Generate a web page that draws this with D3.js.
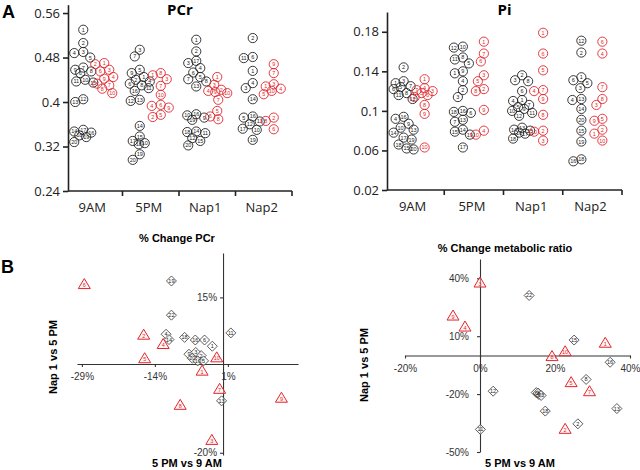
<!DOCTYPE html>
<html><head><meta charset="utf-8">
<script src="https://cdn.jsdelivr.net/npm/d3@7"></script>
<style>body{margin:0;background:#fff}svg{display:block}</style>
</head><body>
<svg id="c" width="640" height="470"></svg>
<script>
// ---------- DATA ----------
const categories = ["9AM", "5PM", "Nap1", "Nap2"];
const pcrTicks = [0.24, 0.32, 0.4, 0.48, 0.56];
const piTicks = [0.02, 0.06, 0.1, 0.14, 0.18];

// [value, subject id]
const pcrBlack9AM = [[0.530,1],[0.506,2],[0.490,3],[0.488,4],[0.480,5],[0.462,7],[0.458,9],[0.455,8],[0.452,6],[0.440,10],[0.437,11],[0.435,15],[0.405,12],[0.400,13],[0.350,17],[0.347,14],[0.345,16],[0.340,18],[0.337,19],[0.328,20]];
const pcrRed9AM   = [[0.470,1],[0.468,2],[0.458,3],[0.455,6],[0.445,4],[0.442,9],[0.433,5],[0.430,7],[0.424,8],[0.416,10]];
const pcrBlack5PM = [[0.494,3],[0.482,7],[0.458,5],[0.452,9],[0.445,1],[0.440,2],[0.437,4],[0.433,6],[0.430,8],[0.425,11],[0.420,16],[0.404,13],[0.402,12],[0.357,14],[0.338,15],[0.330,17],[0.326,10],[0.324,18],[0.306,19],[0.296,20]];
const pcrRed5PM   = [[0.452,8],[0.448,1],[0.441,3],[0.429,7],[0.413,10],[0.395,6],[0.393,4],[0.390,9],[0.377,5],[0.373,2]];
const pcrBlackNap1 = [[0.512,1],[0.491,2],[0.474,17],[0.470,3],[0.461,4],[0.453,6],[0.445,5],[0.441,7],[0.437,8],[0.428,13],[0.378,16],[0.376,10],[0.372,9],[0.368,19],[0.347,14],[0.346,18],[0.344,11],[0.335,12],[0.330,15],[0.322,20]];
const pcrRedNap1   = [[0.445,1],[0.431,3],[0.422,2],[0.420,4],[0.418,9],[0.416,10],[0.404,7],[0.384,5],[0.374,6],[0.369,8]];
const pcrBlackNap2 = [[0.515,2],[0.481,6],[0.479,11],[0.456,1],[0.434,4],[0.425,3],[0.405,14],[0.374,16],[0.372,5],[0.365,13],[0.360,12],[0.352,17],[0.350,10],[0.332,19]];
const pcrRedNap2   = [[0.468,9],[0.452,7],[0.432,3],[0.428,1],[0.424,4],[0.420,10],[0.414,5],[0.372,2],[0.366,8],[0.351,6]];

const piBlack9AM = [[0.144,2],[0.130,3],[0.128,1],[0.125,7],[0.124,5],[0.122,6],[0.118,8],[0.116,11],[0.112,12],[0.094,16],[0.092,4],[0.087,9],[0.083,10],[0.081,13],[0.078,14],[0.073,17],[0.071,19],[0.066,18],[0.062,15],[0.061,20]];
const piRed9AM   = [[0.132,1],[0.123,4],[0.121,7],[0.120,3],[0.118,5],[0.116,6],[0.114,2],[0.106,8],[0.097,9],[0.063,10]];
const piBlack5PM = [[0.165,10],[0.164,12],[0.154,8],[0.152,11],[0.148,5],[0.140,9],[0.138,1],[0.130,4],[0.121,2],[0.114,3],[0.100,16],[0.099,18],[0.098,6],[0.091,13],[0.089,7],[0.081,14],[0.079,15],[0.076,19],[0.063,17]];
const piRed5PM   = [[0.170,1],[0.158,7],[0.150,6],[0.136,3],[0.130,5],[0.122,2],[0.120,8],[0.101,9],[0.080,4],[0.076,10]];
const piBlackNap1 = [[0.136,2],[0.131,3],[0.130,8],[0.120,6],[0.111,1],[0.110,4],[0.106,7],[0.104,5],[0.102,9],[0.100,10],[0.098,11],[0.095,12],[0.083,13],[0.081,14],[0.080,15],[0.078,16],[0.077,17],[0.072,18]];
const piRedNap1   = [[0.179,1],[0.158,6],[0.141,5],[0.121,7],[0.120,4],[0.112,9],[0.096,8],[0.080,2],[0.079,10],[0.070,3]];
const piBlackNap2 = [[0.171,12],[0.159,2],[0.134,1],[0.131,6],[0.128,5],[0.123,3],[0.112,13],[0.111,4],[0.102,14],[0.091,20],[0.080,15],[0.069,19],[0.051,18],[0.049,16]];
const piRedNap2   = [[0.170,6],[0.158,4],[0.124,7],[0.112,8],[0.106,3],[0.092,5],[0.090,9],[0.081,2],[0.077,1],[0.070,10]];

// [x %, y %, subject id]
const pcrChangeX_ticks = [-29, -14, 1];
const pcrChangeY_ticks = [-20, 15];
const pcrChangeRed = [[-28.5,18.0,6],[-16.3,6.6,2],[-12.3,4.5,4],[-16.1,1.3,5],[-1.3,1.5,10],[-4.3,-1.5,1],[-0.7,-5.6,7],[-8.8,-9.2,8],[12.0,-7.6,9],[-2.3,-17.1,3]];
const pcrChangeBlack = [[-10.6,18.7,19],[-10.6,11.0,22],[1.6,7.0,11],[-11.7,6.7,4],[-11.1,5.5,14],[-7.9,6.0,18],[-5.7,5.4,16],[-3.8,5.4,6],[-2.2,4.0,1],[-7.0,2.2,9],[-5.6,2.6,3],[-4.5,1.9,2],[-6.3,1.3,20],[-5.2,0.7,10],[-4.0,0.7,5],[-0.3,-8.3,13]];

const ratioX_ticks = [-20, 0, 20, 40];
const ratioY_ticks = [-50, -20, 10, 40];
const ratioRed = [[0,37.8,3],[-7.2,20.7,9],[-4.0,15.0,4],[33.4,6.6,1],[22.7,2.2,10],[19.2,-0.3,8],[24.3,-13.8,5],[29.2,-18.5,7],[22.7,-38.0,2]];
const ratioBlack = [[13.1,31.1,22],[25.1,8.0,15],[34.7,-3.5,16],[28.3,-12.4,8],[3.5,-18.5,12],[15.0,-19.2,6],[15.7,-20.2,9],[15.5,-19.5,3],[16.3,-20.7,23],[36.5,-27.5,13],[17.4,-28.8,18],[26.1,-35.4,2],[0.1,-38.3,11]];

// ---------- DRAW ----------
const RED = "#e3262b", BLK = "#222";
const svg = d3.select("#c");
const fA = "'Open Sans', sans-serif";
const fB = "'Liberation Sans', Arial, sans-serif";

svg.append("text").attr("x", 2).attr("y", 18).attr("font-family", fB).attr("font-weight", "bold").attr("font-size", 18).text("A");
svg.append("text").attr("x", 1).attr("y", 273).attr("font-family", fB).attr("font-weight", "bold").attr("font-size", 18).text("B");

function stripPanel(cfg) {
  const g = svg.append("g");
  const y = d3.scaleLinear().domain(cfg.ydom).range(cfg.yrange);
  const x = d3.scaleBand().domain(categories).range(cfg.xrange);
  const ya = g.append("g").attr("transform", `translate(${cfg.axisX},0)`)
    .call(d3.axisLeft(y).tickValues(cfg.ticks).tickSize(5).tickSizeOuter(0).tickPadding(3).tickFormat(d3.format(".2~f")));
  ya.selectAll("path,line").attr("stroke", BLK).attr("stroke-width", 1.6);
  ya.selectAll("text").attr("font-family", fA).attr("font-size", 13).attr("fill", "#222");
  const x0 = y.range()[0];
  g.append("line").attr("x1", cfg.axisX).attr("x2", cfg.xrange[1]).attr("y1", x0).attr("y2", x0).attr("stroke", BLK).attr("stroke-width", 1.6);
  categories.forEach(c => {
    g.append("line").attr("x1", x(c) + x.bandwidth()).attr("x2", x(c) + x.bandwidth()).attr("y1", x0).attr("y2", x0 + 5).attr("stroke", BLK).attr("stroke-width", 1.6);
    g.append("text").attr("x", x(c) + x.bandwidth() / 2 - 2).attr("y", x0 + 21).attr("text-anchor", "middle")
      .attr("font-family", fA).attr("font-size", 13).attr("fill", "#222").text(c);
  });
  g.append("text").attr("x", (cfg.axisX + cfg.xrange[1]) / 2).attr("y", 15).attr("text-anchor", "middle")
    .attr("font-family", fA).attr("font-weight", "bold").attr("font-size", 15).text(cfg.title);

  const r = 4.6;
  function swarm(vals, cx) {
    const placed = [];
    const minD = 8.2, maxOff = 10;
    const cands = [0];
    for (let i = 1; i <= maxOff; i++) { cands.push(-i, i); }
    vals.forEach(([v, id]) => {
      const py = y(v);
      let best = 0, bestScore = -1;
      for (const o of cands) {
        let md = Infinity;
        for (const p of placed) { md = Math.min(md, Math.hypot(p.x - (cx + o), p.y - py)); }
        if (md >= minD) { best = o; bestScore = md; break; }
        if (md > bestScore) { bestScore = md; best = o; }
      }
      placed.push({ x: cx + best, y: py, id });
    });
    return placed;
  }
  cfg.groups.forEach((grp, i) => {
    const c = categories[i];
    const center = x(c) + x.bandwidth() / 2;
    [[grp[0], BLK, -11], [grp[1], RED, 10]].forEach(([vals, col, off]) => {
      const pts = swarm(vals, center + off);
      const gg = g.append("g");
      gg.selectAll("circle").data(pts).join("circle")
        .attr("cx", d => d.x).attr("cy", d => d.y).attr("r", r)
        .attr("fill", "none").attr("stroke", col).attr("stroke-width", 0.9);
      gg.selectAll("text").data(pts).join("text")
        .attr("x", d => d.x).attr("y", d => d.y + 2).attr("text-anchor", "middle")
        .attr("font-family", fB).attr("font-size", 5.5).attr("fill", col).text(d => d.id);
    });
  });
}

stripPanel({ title: "PCr", ydom: [0.24, 0.575], yrange: [191, 4.7], xrange: [66, 292], axisX: 68, ticks: pcrTicks,
  groups: [[pcrBlack9AM, pcrRed9AM], [pcrBlack5PM, pcrRed5PM], [pcrBlackNap1, pcrRedNap1], [pcrBlackNap2, pcrRedNap2]] });
stripPanel({ title: "Pi", ydom: [0.02, 0.2], yrange: [190, 12], xrange: [385, 622], axisX: 387, ticks: piTicks,
  groups: [[piBlack9AM, piRed9AM], [piBlack5PM, piRed5PM], [piBlackNap1, piRedNap1], [piBlackNap2, piRedNap2]] });

function quadPanel(cfg) {
  const g = svg.append("g");
  const x = d3.scaleLinear().domain(cfg.xdom).range(cfg.xrange);
  const y = d3.scaleLinear().domain(cfg.ydom).range(cfg.yrange);
  const xa = g.append("g").attr("transform", `translate(0,${y(0)})`)
    .call(d3.axisBottom(x).tickValues(cfg.xticks).tickSize(3).tickSizeOuter(0).tickPadding(6).tickFormat(d => d + "%"));
  const yaxis = g.append("g").attr("transform", `translate(${x(0)},0)`)
    .call(d3.axisLeft(y).tickValues(cfg.yticks).tickSize(3).tickSizeOuter(0).tickPadding(cfg.ypad).tickFormat(d => d + "%"));
  [xa, yaxis].forEach(a => {
    a.selectAll("path,line").attr("stroke", "#333").attr("stroke-width", 1.1);
    a.selectAll("text").attr("font-family", fB).attr("font-size", 10).attr("fill", "#333");
  });
  g.append("text").attr("x", cfg.titleX).attr("y", cfg.titleY).attr("text-anchor", "middle")
    .attr("font-family", fB).attr("font-weight", "bold").attr("font-size", 11).text(cfg.title);
  g.append("text").attr("x", cfg.xtX).attr("y", 467).attr("text-anchor", "middle")
    .attr("font-family", fB).attr("font-weight", "bold").attr("font-size", 11).text("5 PM vs 9 AM");
  g.append("text").attr("transform", `translate(${cfg.ytX},${cfg.ytY}) rotate(-90)`).attr("text-anchor", "middle")
    .attr("font-family", fB).attr("font-weight", "bold").attr("font-size", 11).text("Nap 1 vs 5 PM");

  const diamond = "M0,-5L5,0L0,5L-5,0Z";
  const tri = "M0,-5.5L6,4.5L-6,4.5Z";
  const gb = g.append("g");
  gb.selectAll("path").data(cfg.black).join("path")
    .attr("transform", d => `translate(${x(d[0])},${y(d[1])})`).attr("d", diamond)
    .attr("fill", "rgba(255,255,255,0.6)").attr("stroke", "#333").attr("stroke-width", 0.8);
  gb.selectAll("text").data(cfg.black).join("text")
    .attr("x", d => x(d[0])).attr("y", d => y(d[1]) + 2).attr("text-anchor", "middle")
    .attr("font-family", fB).attr("font-size", 5.5).attr("fill", "#222").text(d => d[2]);
  const gr = g.append("g");
  gr.selectAll("path").data(cfg.red).join("path")
    .attr("transform", d => `translate(${x(d[0])},${y(d[1])})`).attr("d", tri)
    .attr("fill", "rgba(255,235,235,0.5)").attr("stroke", RED).attr("stroke-width", 1);
  gr.selectAll("text").data(cfg.red).join("text")
    .attr("x", d => x(d[0])).attr("y", d => y(d[1]) + 3).attr("text-anchor", "middle")
    .attr("font-family", fB).attr("font-size", 5.5).attr("fill", RED).text(d => d[2]);
}

quadPanel({ title: "% Change PCr", titleX: 177, titleY: 242, xtX: 187, ytX: 57, ytY: 357,
  xdom: [-30, 15.4], xrange: [77, 298], ydom: [-20.5, 25], yrange: [455, 253],
  xticks: pcrChangeX_ticks, yticks: pcrChangeY_ticks, ypad: 3, red: pcrChangeRed, black: pcrChangeBlack });
quadPanel({ title: "% Change metabolic ratio", titleX: 505, titleY: 252, xtX: 520, ytX: 368, ytY: 365,
  xdom: [-20, 40], xrange: [405, 630], ydom: [-50, 50], yrange: [452, 259],
  xticks: ratioX_ticks, yticks: ratioY_ticks, ypad: 8, red: ratioRed, black: ratioBlack });
</script>
</body></html>
